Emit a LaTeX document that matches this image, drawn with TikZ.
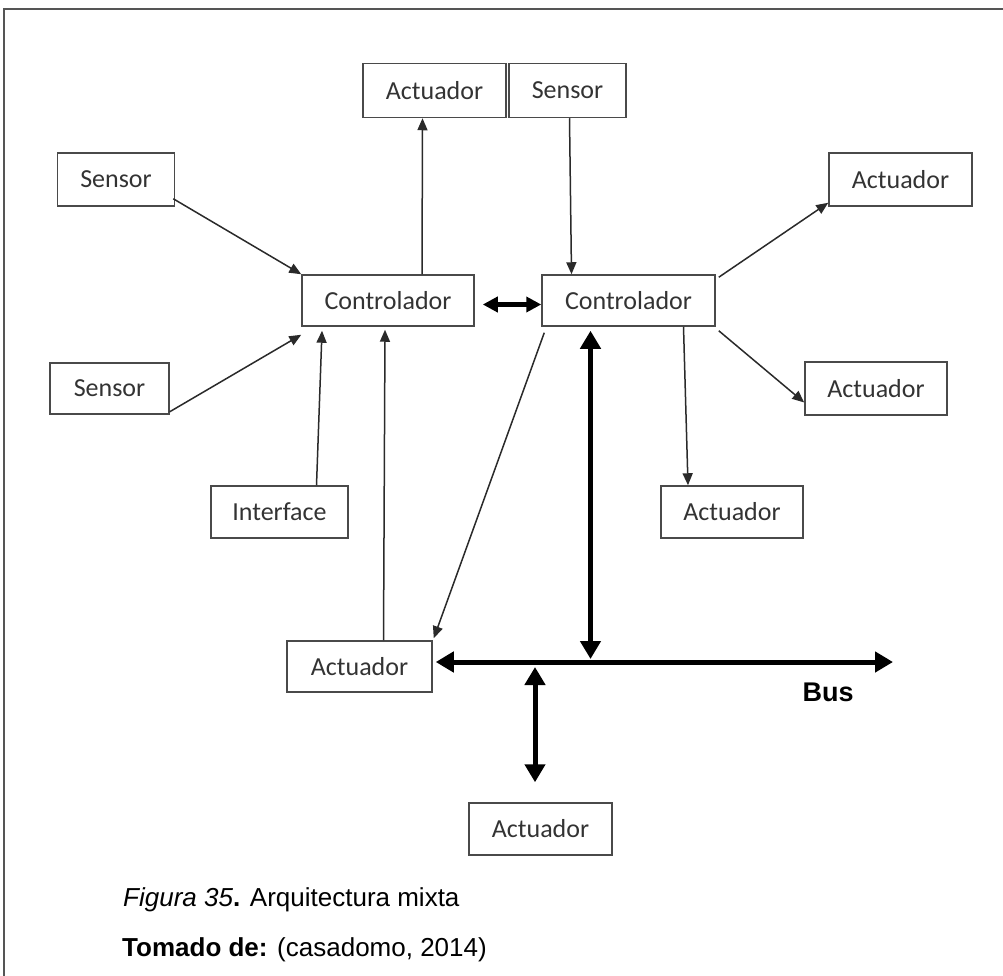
\documentclass[tikz,border=0pt]{standalone}
\usepackage{fontspec}
\setmainfont{Liberation Sans}
\newfontfamily\boxfont{Carlito}
\usetikzlibrary{arrows.meta}
\definecolor{boxgray}{HTML}{4A4A4A}
\definecolor{txtgray}{HTML}{333333}
\definecolor{linegray}{HTML}{2A2A2A}
\definecolor{framegray}{HTML}{555555}
\tikzset{
  unit/.style={draw=boxgray, line width=1.5pt, inner sep=0pt,
    minimum height=52pt, text=txtgray,
    font=\boxfont\fontsize{26}{30}\selectfont},
  thinarrow/.style={draw=linegray, line width=1.5pt,
    -{Triangle[length=12pt,width=10pt]}},
  busarrow/.style={draw=black, line width=5pt,
    {Triangle[length=18pt,width=20pt]}-{Triangle[length=18pt,width=20pt]}},
  linkarrow/.style={draw=black, line width=4.5pt,
    {Triangle[length=15pt,width=15pt]}-{Triangle[length=15pt,width=15pt]}},
  caption/.style={anchor=base west, inner sep=0pt,
    font=\fontsize{26}{30}\selectfont}
}
\begin{document}
\begin{tikzpicture}[x=1pt,y=-1pt]
  \useasboundingbox (0,0) rectangle (1003,976);
  % outer frame (top and left edges)
  \draw[framegray, line width=2pt] (4,976) -- (4,9) -- (1003,9);

  % units
  \node[unit, minimum width=143pt, minimum height=54pt] (actTop) at (434.5,90.5) {Actuador};
  \node[unit, minimum width=117pt, minimum height=54pt] (senTop) at (567.5,90.5) {Sensor};
  \node[unit, minimum width=117pt, minimum height=53pt] (senL1) at (116,179.5) {Sensor};
  \node[unit, minimum width=119pt, minimum height=51pt] (senL2) at (109.5,388.5) {Sensor};
  \node[unit, minimum width=172pt, minimum height=51pt] (ctrlL) at (388,300.5) {Controlador};
  \node[unit, minimum width=173pt, minimum height=51pt] (ctrlR) at (628.5,300.5) {Controlador};
  \node[unit, minimum width=143pt, minimum height=53pt] (actR1) at (900.5,179.5) {Actuador};
  \node[unit, minimum width=142pt, minimum height=53pt] (actR2) at (876,388.5) {Actuador};
  \node[unit, minimum width=142pt, minimum height=52pt] (actR3) at (732,512) {Actuador};
  \node[unit, minimum width=137pt, minimum height=52pt] (iface) at (279.5,512) {Interface};
  \node[unit, minimum width=145pt, minimum height=51pt] (actBL) at (359.5,666.5) {Actuador};
  \node[unit, minimum width=143pt, minimum height=52pt] (actBot) at (540.5,829) {Actuador};

  % bus points
  \coordinate (busR) at (893,662);
  \coordinate (busJ) at (590.5,659);
  \coordinate (busK) at (535,667);

  % thin signal arrows
  \draw[thinarrow] ([shift={(-2,-8)}]senL1.south east) -- (ctrlL.north west);
  \draw[thinarrow] ([shift={(0,-3)}]senL2.south east) -- ([shift={(0,8)}]ctrlL.south west);
  \draw[thinarrow] ([xshift=37pt]iface.north) -- ([shift={(-66,4)}]ctrlL.south);
  \draw[thinarrow] ([xshift=24pt]actBL.north) -- ([shift={(-3,3)}]ctrlL.south);
  \draw[thinarrow] ([xshift=34pt]ctrlL.north) -- ([xshift=-12pt]actTop.south);
  \draw[thinarrow] ([xshift=2pt]senTop.south) -- ([xshift=-57pt]ctrlR.north);
  \draw[thinarrow] ([shift={(3,6)}]ctrlR.south west) -- ([shift={(1,-2)}]actBL.north east);
  \draw[thinarrow] ([shift={(3,3)}]ctrlR.north east) -- ([shift={(0,-4)}]actR1.south west);
  \draw[thinarrow] ([shift={(3,4)}]ctrlR.south east) -- ([shift={(0,14)}]actR2.west);
  \draw[thinarrow] ([xshift=55pt]ctrlR.south) -- ([xshift=-44pt]actR3.north);

  % thick links
  \draw[linkarrow] ([shift={(8,4)}]ctrlL.east) -- ([shift={(0,4)}]ctrlR.west);
  \draw[busarrow] ([shift={(3,-4.5)}]actBL.east) -- (busR);
  \draw[busarrow] ([shift={(-38,4)}]ctrlR.south) -- (busJ);
  \draw[busarrow] (busK) -- ([shift={(-5.5,-20)}]actBot.north);

  \node[font=\bfseries\fontsize{27}{30}\selectfont] (busLbl) at (828,692) {Bus};

  % caption
  \node[caption] (figCap) at (123,906) {\textit{Figura 35}\textbf{.} Arquitectura mixta};
  \node[caption] (srcCap) at (122,956) {\textbf{Tomado de:} (casadomo, 2014)};
\end{tikzpicture}
\end{document}
